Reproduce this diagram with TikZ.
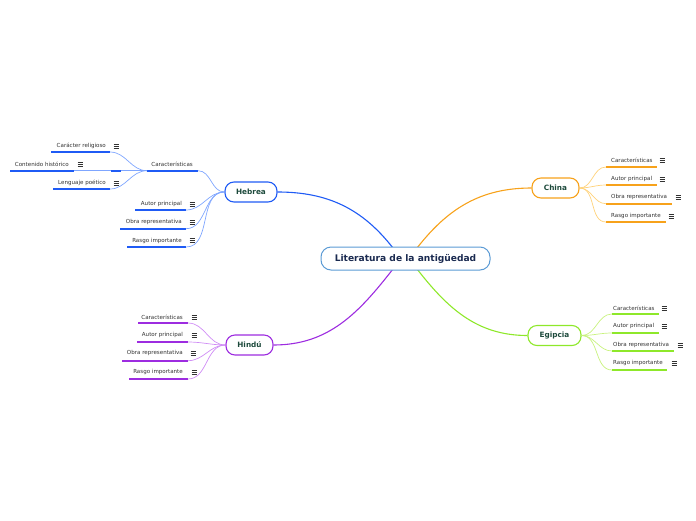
\documentclass[tikz,border=0pt]{standalone}
\usepackage{fontspec}
\setmainfont{DejaVu Sans}
\definecolor{hebc}{HTML}{1F5BF5}
\definecolor{hebl}{HTML}{7FA6FF}
\definecolor{chic}{HTML}{F7A21B}
\definecolor{chil}{HTML}{FFD27A}
\definecolor{egic}{HTML}{8EE82A}
\definecolor{egil}{HTML}{C8F27E}
\definecolor{hinc}{HTML}{9D2CE0}
\definecolor{hinl}{HTML}{CF8CF5}
\definecolor{cenc}{HTML}{5B9BD5}
\definecolor{tgreen}{HTML}{1D4A3C}
\definecolor{tnavy}{HTML}{1A2A50}
\definecolor{tgray}{HTML}{333333}
\tikzset{
  lt/.style={inner sep=0pt, text=tgray, font=\fontsize{5.55}{6.5}\selectfont},
  topic/.style={draw, line width=1.1pt, rounded corners=9pt, fill=white, text=tgreen,
     font=\fontsize{7.3}{8.5}\selectfont\bfseries, inner sep=0pt},
  central/.style={draw=cenc, line width=1pt, rounded corners=10pt, fill=white, text=tnavy,
     font=\fontsize{9.1}{10}\selectfont\bfseries, inner sep=0pt, minimum width=169pt, minimum height=23pt},
  ul/.style={line width=1.6pt},
  menu/.pic={\draw[tgray, line width=0.6pt] (-2.5,-2) -- (2.5,-2) (-2.5,0) -- (2.5,0) (-2.5,2) -- (2.5,2);},
  conn/.style={line width=0.7pt}
}
\newcommand\mmchild[9]{%
  \node[lt,anchor=#2] (#1) at (#3,#4) {#5};
  \coordinate (#1-l) at (#6,#8);
  \coordinate (#1-r) at (#7,#8);
  \draw[ul] (#1-l) -- (#1-r);
  \pic at (#9,#4) {menu};
}
\begin{document}
\begin{tikzpicture}[x=1pt,y=-1pt]
\useasboundingbox (0,0) rectangle (696,520);

\coordinate (cHb) at (393,248);
\coordinate (cCh) at (417,248);
\coordinate (cHi) at (393,269);
\coordinate (cEg) at (417,269);

\node[topic, draw=hebc, minimum width=52pt, minimum height=20pt] (heb) at (251,192) {Hebrea};
\node[topic, draw=chic, minimum width=47pt, minimum height=20pt] (chi) at (555.5,188) {China};
\node[topic, draw=egic, minimum width=53pt, minimum height=20pt] (egi) at (554.5,335.5) {Egipcia};
\node[topic, draw=hinc, minimum width=47pt, minimum height=20pt] (hin) at (249.5,345) {Hindú};

\draw[hebc, line width=1.1pt] (heb.east) to[out=0, in=128] (cHb);
\draw[chic, line width=1.1pt] (chi.west) to[out=180, in=52] (cCh);
\draw[hinc, line width=1.1pt] (hin.east) to[out=0, in=232] (cHi);
\draw[egic, line width=1.1pt] (egi.west) to[out=180, in=308] (cEg);

\node[central] (cen) at (405.5,258.5) {Literatura de la antigüedad};

% Hebrea
\begin{scope}[ul/.append style={hebc}]
  \node[lt,anchor=east] (hc) at (193,164) {Características};
  \coordinate (hc-l) at (147,170.7);
  \coordinate (hc-r) at (198,170.7);
  \coordinate (hc2-x) at (111,170.7);
  \coordinate (hc2-y) at (121,170.7);
  \coordinate (hc2-z) at (74,170.7);
  \draw[hebl, conn] (hc2-z) -- (hc-l);
  \draw[ul] (hc-l) -- (hc-r);
  \draw[ul] (hc2-x) -- (hc2-y);
  \mmchild{hc1}{east}{106}{146}{Carácter religioso}{51}{110}{152}{116}
  \mmchild{hc2}{east}{69}{164}{Contenido histórico}{10}{74}{170.7}{80}
  \mmchild{hc3}{east}{106}{183}{Lenguaje poético}{53}{110}{189}{116}
  \mmchild{h2}{east}{182}{204}{Autor principal}{135}{186}{210}{192}
  \mmchild{h3}{east}{182}{222}{Obra representativa}{120}{186}{228.7}{192}
  \mmchild{h4}{east}{182}{240.7}{Rasgo importante}{127}{186}{247}{192}
\end{scope}
\begin{scope}[hebl, conn]
  \draw (heb.west) to[out=180, in=0] (hc-r);
  \draw (heb.west) to[out=180, in=0] (h2-r);
  \draw (heb.west) to[out=180, in=0] (h3-r);
  \draw (heb.west) to[out=180, in=0] (h4-r);
  \draw (hc-l) to[out=180, in=0] (hc1-r);
  \draw (hc-l) to[out=180, in=0] (hc2-y);
  \draw (hc-l) to[out=180, in=0] (hc3-r);
\end{scope}

% Hindu
\begin{scope}[ul/.append style={hinc}]
  \mmchild{d1}{east}{183}{317}{Características}{138}{188}{323}{194}
  \mmchild{d2}{east}{183}{335}{Autor principal}{137}{188}{342}{194}
  \mmchild{d3}{east}{183}{353}{Obra representativa}{122}{188}{360.7}{193}
  \mmchild{d4}{east}{183}{372}{Rasgo importante}{129}{188}{379}{194}
\end{scope}
\begin{scope}[hinl, conn]
  \draw (hin.west) to[out=180, in=0] (d1-r);
  \draw (hin.west) to[out=180, in=0] (d2-r);
  \draw (hin.west) to[out=180, in=0] (d3-r);
  \draw (hin.west) to[out=180, in=0] (d4-r);
\end{scope}

% China
\begin{scope}[ul/.append style={chic}]
  \mmchild{c1}{west}{611}{160}{Características}{606}{657}{167}{662}
  \mmchild{c2}{west}{611}{179}{Autor principal}{606}{657}{185}{662}
  \mmchild{c3}{west}{611}{197}{Obra representativa}{606}{672}{203.7}{678}
  \mmchild{c4}{west}{611}{216}{Rasgo importante}{606}{666}{222}{671}
\end{scope}
\begin{scope}[chil, conn]
  \draw (chi.east) to[out=0, in=180] (c1-l);
  \draw (chi.east) to[out=0, in=180] (c2-l);
  \draw (chi.east) to[out=0, in=180] (c3-l);
  \draw (chi.east) to[out=0, in=180] (c4-l);
\end{scope}

% Egipcia
\begin{scope}[ul/.append style={egic}]
  \mmchild{e1}{west}{613}{308}{Características}{612}{659}{314}{664}
  \mmchild{e2}{west}{613}{326}{Autor principal}{612}{659}{333}{664}
  \mmchild{e3}{west}{613}{345}{Obra representativa}{612}{674}{351}{680}
  \mmchild{e4}{west}{613}{363}{Rasgo importante}{612}{667}{370}{674}
\end{scope}
\begin{scope}[egil, conn]
  \draw (egi.east) to[out=0, in=180] (e1-l);
  \draw (egi.east) to[out=0, in=180] (e2-l);
  \draw (egi.east) to[out=0, in=180] (e3-l);
  \draw (egi.east) to[out=0, in=180] (e4-l);
\end{scope}
\end{tikzpicture}
\end{document}
